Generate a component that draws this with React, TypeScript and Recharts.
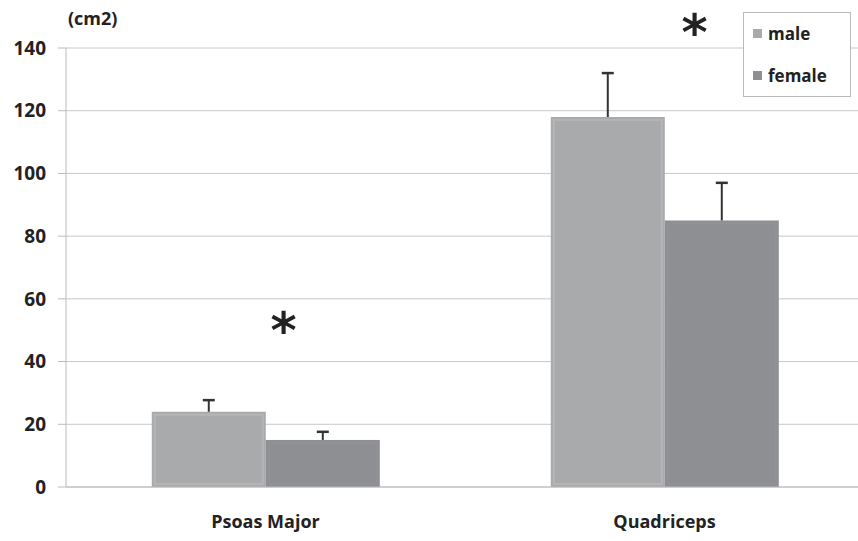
import { BarChart, Bar, XAxis, YAxis, CartesianGrid, ReferenceDot } from 'recharts';

const categories = ['Psoas Major', 'Quadriceps'];
const maleValues = [24, 118];
const femaleValues = [15, 85];
const maleErrors = [3.7, 14];
const femaleErrors = [2.6, 12];
// significance markers: [category, y value]
const stars: [string, number][] = [['Psoas Major', 52], ['Quadriceps', 147]];
const yTicks = [0, 20, 40, 60, 80, 100, 120, 140];

const data = categories.map((name, i) => ({
    name,
    male: maleValues[i],
    female: femaleValues[i],
    maleErr: maleErrors[i],
    femaleErr: femaleErrors[i],
}));

const FONT = '"Open Sans", "Noto Sans", sans-serif';
const MALE = '#a9aaac';
const FEMALE = '#8e8f93';
const STAR_DX = [18, 30]; // the stars sit a little right of the group centre

// bar rect + one-sided (upward) error whisker
const makeShape = (errKey: string, edge: string) => (props: any) => {
    const { x, y, width, height, fill, payload, value } = props;
    const v = Array.isArray(value) ? value[1] - value[0] : value;
    const pxPerUnit = v ? height / v : 0;
    const err = payload[errKey] * pxPerUnit;
    const cx = x + width / 2;
    return (
        <g>
            <rect x={x} y={y} width={width} height={height} fill={fill} />
            <rect x={x + 3} y={y + 3} width={width - 6} height={height - 6} fill="none" stroke={edge} strokeWidth={2} />
            <line x1={cx} x2={cx} y1={y} y2={y - err} stroke="#333" strokeWidth={2} />
            <line x1={cx - 6} x2={cx + 6} y1={y - err} y2={y - err} stroke="#333" strokeWidth={2.5} />
        </g>
    );
};

const LegendBox = () => (
    <div style={{
        position: 'absolute', left: 743, top: 12,
        width: 108, height: 85, border: '1px solid #bbb', background: '#fff',
        fontFamily: FONT, fontWeight: 700, fontSize: 17, color: '#222', boxSizing: 'border-box',
    }}>
        {[['male', MALE], ['female', FEMALE]].map(([label, color], i) => (
            <div key={label} style={{ position: 'absolute', left: 9, top: 9 + i * 42, display: 'flex', alignItems: 'center', gap: 6 }}>
                <div style={{ width: 9, height: 9, background: color }} />
                <span>{label}</span>
            </div>
        ))}
    </div>
);

const Star = (props: any) => {
    const { cx, cy, dx } = props;
    return (
        <text x={cx + dx} y={cy + 24} textAnchor="middle" fontFamily="DejaVu Sans" fontWeight={700} fontSize={50} fill="#222">*</text>
    );
};

export default function App() {
    return (
        <div style={{ position: 'absolute', left: 0, top: 0, width: 858, height: 541, overflow: 'hidden', background: '#fff' }}>
            <BarChart width={864} height={541} data={data} margin={{ top: 48, right: 0, left: 0, bottom: 0 }}
                barCategoryGap="21.5%" barGap={0}>
                <CartesianGrid vertical={false} stroke="#c8c8c8" />
                <XAxis dataKey="name" height={54} axisLine={{ stroke: '#bbb' }} tickLine={false} tickMargin={22}
                    tick={{ fontFamily: FONT, fontWeight: 700, fontSize: 18, fill: '#222' }} />
                <YAxis domain={[0, 140]} ticks={yTicks} width={66} axisLine={{ stroke: '#bbb' }}
                    tickLine={{ stroke: '#bbb' }} tickSize={8} tickMargin={12}
                    tick={{ fontFamily: FONT, fontWeight: 700, fontSize: 19, fill: '#222' }} />
                <Bar dataKey="male" name="male" fill={MALE} isAnimationActive={false} shape={makeShape('maleErr', '#b4b5b7')} />
                <Bar dataKey="female" name="female" fill={FEMALE} isAnimationActive={false} shape={makeShape('femaleErr', '#919296')} />
                {stars.map(([cat, v], i) => (
                    <ReferenceDot key={cat} x={cat} y={v} r={0} ifOverflow="visible" shape={<Star dx={STAR_DX[i]} />} />
                ))}
            </BarChart>
            <div style={{ position: 'absolute', left: 68, top: 6, fontFamily: FONT, fontWeight: 700, fontSize: 18, color: '#222' }}>(cm2)</div>
            <LegendBox />
        </div>
    );
}
